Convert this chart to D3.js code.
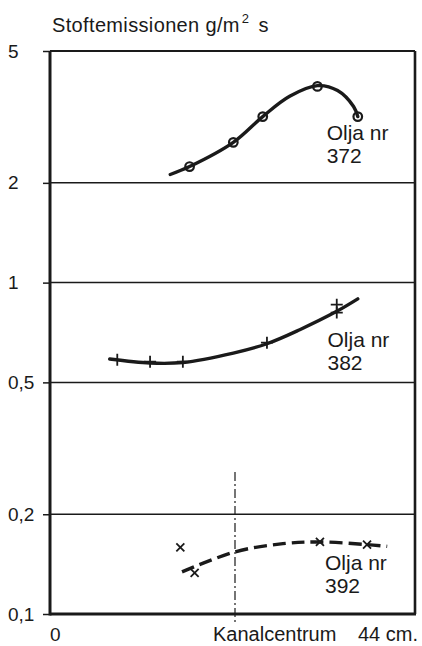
<!DOCTYPE html>
<html>
<head>
<meta charset="utf-8">
<script src="https://cdn.jsdelivr.net/npm/d3@7"></script>
<style>
  body { margin: 0; background: #fff; }
  text { font-family: "Liberation Sans", Arial, sans-serif; fill: #1a1a1a; }
</style>
</head>
<body>
<div id="chart"></div>
<script>
// y ticks (log scale) and labels
const yTicks = [0.1, 0.2, 0.5, 1, 2, 5];
const yTickLabels = ["0,1", "0,2", "0,5", "1", "2", "5"];
const gridValues = [0.2, 0.5, 1, 2];
const kanalCentrum = 22;

// Olja nr 372 (circles)
const pts372x = [16.6, 21.8, 25.3, 31.8, 36.6];
const pts372y = [2.24, 2.65, 3.17, 3.91, 3.17];
const curve372x = [14.3, 16.6, 21.8, 25.3, 28.5, 31.8, 34.2, 36.1, 36.6];
const curve372y = [2.12, 2.24, 2.65, 3.17, 3.65, 3.93, 3.8, 3.4, 3.17];

// Olja nr 382 (plus)
const pts382x = [8.0, 11.9, 15.8, 25.8, 34.1, 34.1];
const pts382y = [0.585, 0.577, 0.577, 0.659, 0.858, 0.812];
const curve382x = [7.1, 11.9, 15.8, 21.8, 25.8, 29.7, 34.1, 36.6];
const curve382y = [0.588, 0.572, 0.574, 0.613, 0.654, 0.721, 0.819, 0.893];

// Olja nr 392 (x)
const pts392x = [15.5, 17.2, 32.1, 37.7];
const pts392y = [0.159, 0.133, 0.165, 0.162];
const curve392x = [15.7, 22, 27.7, 32.1, 37.7, 40.1];
const curve392y = [0.134, 0.154, 0.163, 0.165, 0.162, 0.160];

const labels = [
  { name: "372", x: 32.9, y: 2.69 },
  { name: "382", x: 33.0, y: 0.641 },
  { name: "392", x: 32.7, y: 0.136 }
];

const width = 422, height = 646;
const svg = d3.select("#chart").append("svg")
  .attr("width", width).attr("height", height);

const x = d3.scaleLinear().domain([0, 44]).range([50, 420]);
const y = d3.scaleLog().domain([0.1, 5]).range([614, 51]);
const xRight = 415;

// title
const title = svg.append("text").attr("x", 52).attr("y", 32)
  .attr("font-size", 20).attr("letter-spacing", 0.35);
title.append("tspan").text("Stoftemissionen g/m");
title.append("tspan").attr("font-size", 13).attr("dy", -9).attr("dx", 2).text("2");
title.append("tspan").attr("dy", 9).attr("dx", 9).text("s");

// gridlines
svg.append("g").selectAll("line").data(gridValues).join("line")
  .attr("x1", 50).attr("x2", xRight)
  .attr("y1", d => y(d)).attr("y2", d => y(d))
  .attr("stroke", "#1a1a1a").attr("stroke-width", 1.5);

// y axis
const yAxis = svg.append("g").attr("transform", "translate(50,0)")
  .call(d3.axisLeft(y).tickValues(yTicks)
    .tickFormat((d, i) => yTickLabels[i]).tickSize(7).tickPadding(6));
yAxis.select(".domain").remove();
yAxis.selectAll(".tick line").attr("stroke", "#1a1a1a").attr("stroke-width", 1.5);
yAxis.selectAll(".tick text")
  .attr("text-anchor", "start").attr("x", -42)
  .attr("font-size", 19).attr("fill", "#1a1a1a");

// frame
svg.append("line").attr("x1", 50).attr("x2", xRight).attr("y1", y(5)).attr("y2", y(5))
  .attr("stroke", "#1a1a1a").attr("stroke-width", 1.8);
svg.append("line").attr("x1", xRight).attr("x2", xRight).attr("y1", y(5)).attr("y2", y(0.1))
  .attr("stroke", "#1a1a1a").attr("stroke-width", 2.6);
svg.append("line").attr("x1", 50).attr("x2", 50).attr("y1", y(5)).attr("y2", y(0.1) + 1.5)
  .attr("stroke", "#1a1a1a").attr("stroke-width", 3);
svg.append("line").attr("x1", 50).attr("x2", xRight + 1).attr("y1", y(0.1)).attr("y2", y(0.1))
  .attr("stroke", "#1a1a1a").attr("stroke-width", 3);

// Kanalcentrum dash-dot line
svg.append("line")
  .attr("x1", x(kanalCentrum)).attr("x2", x(kanalCentrum))
  .attr("y1", 472).attr("y2", 624)
  .attr("stroke", "#1a1a1a").attr("stroke-width", 1.2)
  .attr("stroke-dasharray", "9,3,2,3");

// x labels
svg.append("text").attr("x", x(0)).attr("y", 641)
  .attr("font-size", 19).text("0");
svg.append("text").attr("x", 213).attr("y", 641).attr("font-size", 20)
  .text("Kanalcentrum");
svg.append("text").attr("x", 358).attr("y", 641)
  .attr("font-size", 20).text("44 cm.");

const line = d3.line().x(d => x(d[0])).y(d => y(d[1])).curve(d3.curveCatmullRom.alpha(0.5));

// 372
svg.append("path").datum(d3.zip(curve372x, curve372y))
  .attr("d", line).attr("fill", "none").attr("stroke", "#1a1a1a")
  .attr("stroke-width", 3.4).attr("stroke-linecap", "round");
svg.append("g").selectAll("circle").data(d3.zip(pts372x, pts372y)).join("circle")
  .attr("cx", d => x(d[0])).attr("cy", d => y(d[1])).attr("r", 4.3)
  .attr("fill", "none").attr("stroke", "#1a1a1a").attr("stroke-width", 2.2);

// 382
svg.append("path").datum(d3.zip(curve382x, curve382y))
  .attr("d", line).attr("fill", "none").attr("stroke", "#1a1a1a")
  .attr("stroke-width", 3.4).attr("stroke-linecap", "round");
svg.append("g").selectAll("path").data(d3.zip(pts382x, pts382y)).join("path")
  .attr("d", d => {
    const cx = x(d[0]), cy = y(d[1]);
    return `M${cx - 6},${cy}H${cx + 6}M${cx},${cy - 6}V${cy + 6}`;
  })
  .attr("stroke", "#1a1a1a").attr("stroke-width", 1.8);

// 392
svg.append("path").datum(d3.zip(curve392x, curve392y))
  .attr("d", line).attr("fill", "none").attr("stroke", "#1a1a1a")
  .attr("stroke-width", 3.4).attr("stroke-dasharray", "13,6");
svg.append("g").selectAll("path").data(d3.zip(pts392x, pts392y)).join("path")
  .attr("d", d => {
    const cx = x(d[0]), cy = y(d[1]);
    return `M${cx - 4},${cy - 4}L${cx + 4},${cy + 4}M${cx - 4},${cy + 4}L${cx + 4},${cy - 4}`;
  })
  .attr("stroke", "#1a1a1a").attr("stroke-width", 1.8);

// series labels
labels.forEach(l => {
  const t = svg.append("text").attr("x", x(l.x)).attr("y", y(l.y)).attr("font-size", 21);
  t.append("tspan").attr("x", x(l.x)).text("Olja nr");
  t.append("tspan").attr("x", x(l.x)).attr("dy", 23).text(l.name);
});
</script>
</body>
</html>
